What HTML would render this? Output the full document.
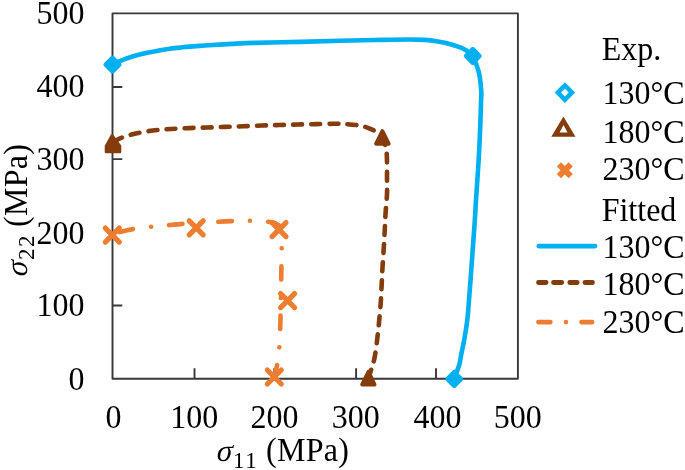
<!DOCTYPE html>
<html><head><meta charset="utf-8"><style>
html,body{margin:0;padding:0;background:#fff;width:685px;height:470px;overflow:hidden}
svg{display:block;will-change:transform}
text{font-family:"Liberation Serif",serif}
</style></head><body>
<svg width="685" height="470" viewBox="0 0 685 470">
<path d="M112.5 13.4H517.9V378.7H112.5Z" fill="none" stroke="#383838" stroke-width="1.9" stroke-linejoin="round"/>
<path d="M194.5 378.7V368.2 M274.3 378.7V368.2 M356.1 378.7V368.2 M436.0 378.7V368.2 M112.5 87.0H122.3 M112.5 159.1H122.3 M112.5 232.4H122.3 M112.5 305.5H122.3" stroke="#383838" stroke-width="1.9" fill="none"/>
<path d="M112.4 64.5 C114.0 63.8 118.2 61.7 121.7 60.3 C125.2 58.9 129.5 57.5 133.4 56.3 C137.3 55.1 141.1 54.2 145.0 53.3 C148.9 52.4 152.8 51.7 156.7 51.0 C160.6 50.3 164.5 49.6 168.4 49.0 C172.3 48.4 176.5 48.0 180.0 47.6 C183.5 47.2 184.7 47.0 189.4 46.6 C194.1 46.2 201.4 45.8 208.4 45.3 C215.4 44.8 223.9 44.3 231.7 43.9 C239.5 43.5 243.6 43.2 255.0 42.9 C266.4 42.6 285.8 42.2 300.0 41.9 C314.2 41.5 327.5 41.1 340.0 40.8 C352.5 40.5 363.3 40.2 375.0 40.0 C386.7 39.8 401.7 39.5 410.0 39.5 C418.3 39.5 420.4 39.6 425.0 39.9 C429.6 40.2 433.6 40.8 437.8 41.5 C442.1 42.2 446.2 43.0 450.5 44.2 C454.8 45.4 459.7 46.9 463.3 48.8 C466.9 50.7 469.8 52.3 472.3 55.8 C474.8 59.3 476.9 66.0 478.2 70.0 C479.5 74.0 479.7 76.3 480.2 80.0 C480.7 83.7 481.1 88.7 481.3 92.0 C481.5 95.3 481.3 94.5 481.1 100.0 C480.9 105.5 480.6 116.7 480.3 125.0 C480.0 133.3 479.6 141.7 479.2 150.0 C478.8 158.3 478.2 166.7 477.7 175.0 C477.2 183.3 476.5 191.7 476.0 200.0 C475.5 208.3 475.1 216.7 474.5 225.0 C473.9 233.3 473.3 241.7 472.7 250.0 C472.1 258.3 471.5 266.7 470.9 275.0 C470.3 283.3 469.6 292.5 469.0 300.0 C468.4 307.5 468.1 313.3 467.3 320.0 C466.5 326.7 465.2 334.2 464.2 340.0 C463.2 345.8 461.9 350.8 461.1 355.0 C460.3 359.2 460.4 361.0 459.2 365.0 C458.0 369.0 455.0 376.5 454.2 378.8" fill="none" stroke="#00B0F0" stroke-width="4.6" stroke-linejoin="round"/>
<path d="M112.5 143.3 C113.8 142.5 116.3 140.0 120.0 138.4 C123.7 136.8 129.2 135.1 134.7 133.8 C140.2 132.5 146.8 131.3 152.9 130.5 C159.0 129.7 165.0 129.4 171.0 129.0 C177.0 128.6 183.0 128.3 189.0 128.1 C195.0 127.8 201.0 127.7 207.0 127.5 C213.0 127.3 219.0 127.1 225.0 126.9 C231.0 126.7 236.8 126.5 243.0 126.3 C249.2 126.1 255.9 125.7 262.0 125.5 C268.1 125.3 273.6 125.2 279.5 125.0 C285.4 124.8 291.5 124.7 297.6 124.5 C303.7 124.3 309.9 124.2 316.0 124.1 C322.1 124.0 329.0 123.8 334.0 123.8 C339.0 123.8 341.9 123.8 346.0 124.1 C350.1 124.4 355.1 124.8 358.8 125.4 C362.5 126.0 365.1 126.7 368.0 127.8 C370.9 128.9 373.6 130.2 376.0 131.8 C378.4 133.4 381.3 136.6 382.4 137.5" fill="none" stroke="#843C0C" stroke-width="4.6" stroke-linecap="round" stroke-dasharray="8.9 9.2" stroke-dashoffset="-2.3"/>
<path d="M382.4 137.5 C383.0 139.2 385.2 144.6 386.0 148.0 C386.8 151.4 386.7 153.3 386.9 158.0 C387.1 162.7 387.0 170.0 387.0 176.0 C387.0 182.0 387.2 187.9 387.0 194.0 C386.8 200.1 386.0 206.4 385.6 212.6 C385.2 218.8 385.0 224.9 384.7 231.0 C384.4 237.1 384.1 242.9 383.7 249.0 C383.3 255.1 382.9 261.5 382.5 267.7 C382.1 273.9 381.9 280.2 381.6 286.2 C381.3 292.1 381.1 297.5 380.7 303.4 C380.3 309.2 379.7 315.3 379.1 321.3 C378.6 327.3 377.9 333.2 377.2 339.2 C376.5 345.1 375.6 352.3 374.7 357.0 C373.8 361.7 372.9 364.0 371.8 367.5 C370.8 371.0 369.0 376.4 368.4 378.2" fill="none" stroke="#843C0C" stroke-width="4.6" stroke-linecap="round" stroke-dasharray="8.9 9.2" stroke-dashoffset="1.2000000000000002"/>
<path d="M112.3 235.1 C113.2 234.7 115.2 233.6 117.5 232.8 C119.8 232.1 123.2 231.2 126.0 230.6 C128.8 229.9 130.5 229.5 134.5 228.9 C138.5 228.3 144.9 227.4 150.2 226.8 C155.5 226.2 160.8 225.8 166.4 225.3 C172.0 224.8 178.3 224.2 183.9 223.8 C189.5 223.4 194.7 223.0 200.0 222.7 C205.3 222.4 210.3 222.2 216.0 221.9 C221.7 221.6 228.5 221.2 234.2 221.0 C239.9 220.8 245.0 220.6 250.3 220.7 C255.6 220.8 262.1 221.2 266.0 221.6 C269.9 221.9 271.7 222.1 274.0 222.8 C276.3 223.5 278.8 225.5 279.8 226.0" fill="none" stroke="#ED7D31" stroke-width="4.6" stroke-linecap="round" stroke-dasharray="13.4 18.1 0.01 17.99" stroke-dashoffset="-8.399999999999999"/>
<path d="M279.8 226.0 C280.1 227.3 281.0 230.3 281.3 234.0 C281.6 237.7 281.7 241.6 281.7 248.1 C281.7 254.6 281.4 264.4 281.3 273.0 C281.2 281.6 281.0 291.8 280.8 300.0 C280.6 308.2 280.6 314.3 280.4 322.0 C280.2 329.7 279.9 339.5 279.4 346.2 C278.9 352.9 278.4 356.9 277.6 362.0 C276.8 367.1 275.3 374.1 274.8 376.5" fill="none" stroke="#ED7D31" stroke-width="4.6" stroke-linecap="round" stroke-dasharray="13.4 18.1 0.01 17.99" stroke-dashoffset="9.100000000000001"/>
<path d="M112.5 57.8L119.3 64.6L112.5 71.4L105.7 64.6Z" fill="#00B0F0" stroke="#00B0F0" stroke-width="4.5" stroke-linejoin="round"/>
<path d="M472.8 49.2L479.6 56.0L472.8 62.8L466.0 56.0Z" fill="#00B0F0" stroke="#00B0F0" stroke-width="4.5" stroke-linejoin="round"/>
<path d="M454.2 372.2L461.0 379.0L454.2 385.8L447.4 379.0Z" fill="#00B0F0" stroke="#00B0F0" stroke-width="4.5" stroke-linejoin="round"/>
<path d="M112.1 135.6L119.8 146.2L119.8 151.7L106.2 151.7L106.2 146.2Z" fill="#843C0C" stroke="#843C0C" stroke-width="3" stroke-linejoin="round"/>
<path d="M382.4 131.2L388.7 143.8L376.1 143.8Z" fill="#843C0C" stroke="#843C0C" stroke-width="4" stroke-linejoin="round"/>
<path d="M368.5 371.8L374.5 384.6L362.2 384.6Z" fill="#843C0C" stroke="#843C0C" stroke-width="4" stroke-linejoin="round"/>
<path d="M105.3 228.1L119.3 242.1M105.3 242.1L119.3 228.1" stroke="#ED7D31" stroke-width="5.2" stroke-linecap="round" fill="none"/>
<path d="M189.2 220.8L203.2 234.8M189.2 234.8L203.2 220.8" stroke="#ED7D31" stroke-width="5.2" stroke-linecap="round" fill="none"/>
<path d="M272.0 222.6L286.0 236.6M272.0 236.6L286.0 222.6" stroke="#ED7D31" stroke-width="5.2" stroke-linecap="round" fill="none"/>
<path d="M280.6 293.6L294.6 307.6M280.6 307.6L294.6 293.6" stroke="#ED7D31" stroke-width="5.2" stroke-linecap="round" fill="none"/>
<path d="M267.3 370.0L281.3 384.0M267.3 384.0L281.3 370.0" stroke="#ED7D31" stroke-width="5.2" stroke-linecap="round" fill="none"/>
<text transform="translate(84.4,389.9) scale(1,1.04)" text-anchor="end" font-family="Liberation Serif" font-size="32" fill="#000">0</text>
<text transform="translate(84.4,315.5) scale(1,1.04)" text-anchor="end" font-family="Liberation Serif" font-size="32" fill="#000">100</text>
<text transform="translate(84.4,244.3) scale(1,1.04)" text-anchor="end" font-family="Liberation Serif" font-size="32" fill="#000">200</text>
<text transform="translate(84.4,169.8) scale(1,1.04)" text-anchor="end" font-family="Liberation Serif" font-size="32" fill="#000">300</text>
<text transform="translate(84.4,97.1) scale(1,1.04)" text-anchor="end" font-family="Liberation Serif" font-size="32" fill="#000">400</text>
<text transform="translate(84.4,24.3) scale(1,1.04)" text-anchor="end" font-family="Liberation Serif" font-size="32" fill="#000">500</text>
<text transform="translate(113.6,428) scale(1,1.04)" text-anchor="middle" font-family="Liberation Serif" font-size="32" fill="#000">0</text>
<text transform="translate(194.2,428) scale(1,1.04)" text-anchor="middle" font-family="Liberation Serif" font-size="32" fill="#000">100</text>
<text transform="translate(274.6,428) scale(1,1.04)" text-anchor="middle" font-family="Liberation Serif" font-size="32" fill="#000">200</text>
<text transform="translate(355.8,428) scale(1,1.04)" text-anchor="middle" font-family="Liberation Serif" font-size="32" fill="#000">300</text>
<text transform="translate(437.4,428) scale(1,1.04)" text-anchor="middle" font-family="Liberation Serif" font-size="32" fill="#000">400</text>
<text transform="translate(517.8,428) scale(1,1.04)" text-anchor="middle" font-family="Liberation Serif" font-size="32" fill="#000">500</text>
<g transform="translate(216,461.1) scale(1,1.04)"><text transform="translate(-0.8,0) skewX(-12)" font-family="Liberation Serif" font-size="30" fill="#000">σ</text><text x="17" y="6.7" font-family="Liberation Serif" font-size="23" letter-spacing="1.6" fill="#000">11</text><text x="50" y="0" font-family="Liberation Serif" font-size="32" fill="#000" letter-spacing="0.3">(MPa)</text></g>
<g transform="translate(26.6,277) rotate(-90) scale(1,1.04)"><text transform="translate(-0.8,0) skewX(-12)" font-family="Liberation Serif" font-size="30" fill="#000">σ</text><text x="17" y="6.7" font-family="Liberation Serif" font-size="23" letter-spacing="1.6" fill="#000">22</text><text x="50" y="0" font-family="Liberation Serif" font-size="32" fill="#000" letter-spacing="0.3">(MPa)</text></g>
<text transform="translate(601.7,60.2) scale(1,1.04)" font-family="Liberation Serif" font-size="32" fill="#000">Exp.</text>
<text transform="translate(602.5,103.8) scale(1,1.04)" font-family="Liberation Serif" font-size="32" fill="#000">130°C</text>
<text transform="translate(602.5,142.6) scale(1,1.04)" font-family="Liberation Serif" font-size="32" fill="#000">180°C</text>
<text transform="translate(602.5,179.6) scale(1,1.04)" font-family="Liberation Serif" font-size="32" fill="#000">230°C</text>
<text transform="translate(601.7,221.1) scale(1,1.04)" font-family="Liberation Serif" font-size="32" fill="#000">Fitted</text>
<text transform="translate(602.5,258.2) scale(1,1.04)" font-family="Liberation Serif" font-size="32" fill="#000">130°C</text>
<text transform="translate(602.5,295.2) scale(1,1.04)" font-family="Liberation Serif" font-size="32" fill="#000">180°C</text>
<text transform="translate(602.5,332.5) scale(1,1.04)" font-family="Liberation Serif" font-size="32" fill="#000">230°C</text>
<path d="M564.9 82.3L575.2 92.6L564.9 102.9L554.6 92.6ZM564.9 88.8L561.1 92.6L564.9 96.4L568.7 92.6Z" fill="#00B0F0" fill-rule="evenodd"/>
<path d="M563.4 116.6L575.5 136.7L551.3 136.7ZM563.5 124.9L559.6 132.5L567.5 132.5Z" fill="#843C0C" fill-rule="evenodd"/>
<path d="M558.9 164.4L570.7 176.2M558.9 176.2L570.7 164.4" stroke="#ED7D31" stroke-width="6.0" stroke-linecap="butt" fill="none"/>
<path d="M538.8 246.1H595" stroke="#00B0F0" stroke-width="4.8" stroke-linecap="round"/>
<path d="M538.5 282.5H546.1M553.5 282.5H561.8M569.8 282.5H577.2M585.0 282.5H592.5" stroke="#843C0C" stroke-width="4.8" stroke-linecap="round"/>
<path d="M538.4 322.1H550.4M566.0 322.1H566.01M581.5 322.1H592.2" stroke="#ED7D31" stroke-width="4.6" stroke-linecap="round"/>
</svg>
</body></html>
